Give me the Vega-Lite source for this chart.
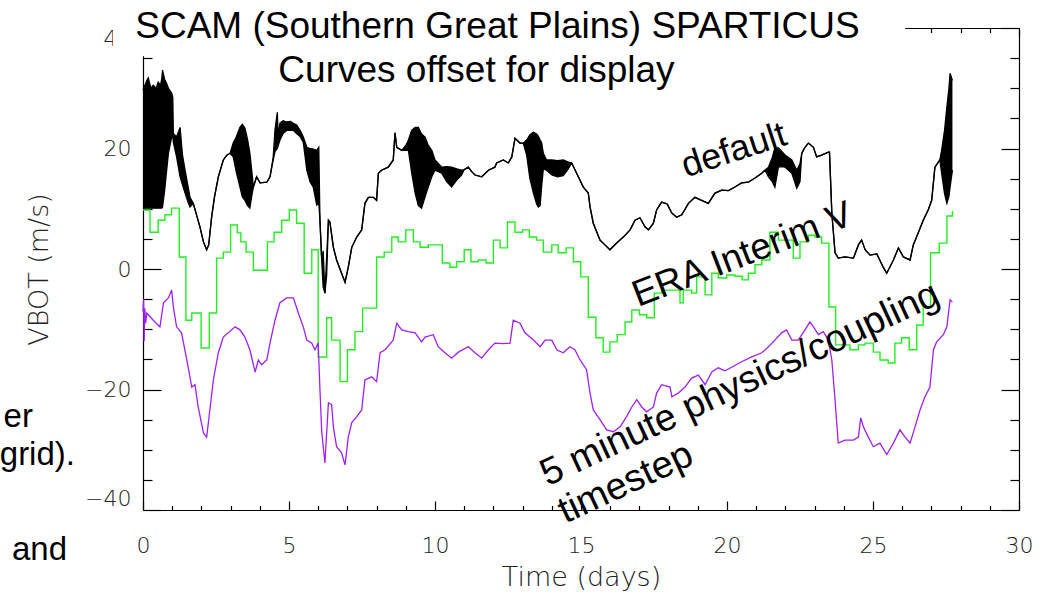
{
  "$schema": "https://vega.github.io/schema/vega-lite/v6.json",
  "width": 876,
  "height": 482,
  "autosize": {"type": "none"},
  "padding": {"left": 143, "top": 28, "right": 35, "bottom": 86},
  "background": "white",
  "config": {
    "view": {"stroke": null},
    "axis": {
      "grid": false,
      "domainColor": "#000",
      "domainWidth": 1.2,
      "tickColor": "#000",
      "tickWidth": 1.2,
      "labelFont": "DejaVu Sans",
      "labelFontWeight": 200,
      "labelFontSize": 22,
      "labelColor": "#222",
      "titleFont": "DejaVu Sans",
      "titleFontWeight": 200,
      "titleFontSize": 27,
      "titleColor": "#222"
    }
  },
  "datasets": {
    "black": [
      {"t": 0.0, "hi": 29.7, "lo": 10.1}, {"t": 0.13, "hi": 31.3, "lo": 10.1}, {"t": 0.18, "hi": 31.7, "lo": 10.1},
      {"t": 0.27, "hi": 30.0, "lo": 10.1}, {"t": 0.35, "hi": 30.5, "lo": 10.1}, {"t": 0.45, "hi": 30.0, "lo": 10.1},
      {"t": 0.52, "hi": 31.0, "lo": 10.1}, {"t": 0.6, "hi": 30.5, "lo": 10.1}, {"t": 0.64, "hi": 31.5, "lo": 10.1},
      {"t": 0.67, "hi": 33.0, "lo": 10.3}, {"t": 0.74, "hi": 31.5, "lo": 13.0}, {"t": 0.81, "hi": 30.8, "lo": 16.4},
      {"t": 0.87, "hi": 30.0, "lo": 19.2}, {"t": 0.98, "hi": 29.2, "lo": 21.9}, {"t": 1.02, "hi": 28.5, "lo": 22.0},
      {"t": 1.04, "hi": 22.5, "lo": 21.0}, {"t": 1.15, "hi": 21.9, "lo": 18.6}, {"t": 1.27, "hi": 23.5, "lo": 15.3},
      {"t": 1.35, "hi": 19.0, "lo": 14.0}, {"t": 1.44, "hi": 16.4, "lo": 12.6}, {"t": 1.55, "hi": 13.5, "lo": 11.0},
      {"t": 1.61, "hi": 11.9, "lo": 10.3}, {"t": 1.72, "hi": 10.9, "lo": 10.9}, {"t": 1.95, "hi": 7.0, "lo": 7.0},
      {"t": 2.07, "hi": 4.5, "lo": 4.5}, {"t": 2.18, "hi": 3.2, "lo": 3.2}, {"t": 2.25, "hi": 4.0, "lo": 4.0},
      {"t": 2.35, "hi": 8.6, "lo": 8.6}, {"t": 2.45, "hi": 12.0, "lo": 12.0}, {"t": 2.58, "hi": 15.3, "lo": 15.3},
      {"t": 2.75, "hi": 18.1, "lo": 18.1}, {"t": 2.87, "hi": 18.9, "lo": 18.9}, {"t": 2.98, "hi": 19.2, "lo": 19.2},
      {"t": 3.09, "hi": 20.9, "lo": 18.6}, {"t": 3.2, "hi": 22.0, "lo": 16.0}, {"t": 3.32, "hi": 23.5, "lo": 13.6},
      {"t": 3.4, "hi": 24.0, "lo": 12.0}, {"t": 3.49, "hi": 23.4, "lo": 11.4}, {"t": 3.58, "hi": 21.5, "lo": 10.5},
      {"t": 3.66, "hi": 19.2, "lo": 10.1}, {"t": 3.72, "hi": 16.5, "lo": 12.0}, {"t": 3.78, "hi": 13.6, "lo": 13.6},
      {"t": 3.89, "hi": 15.3, "lo": 15.3}, {"t": 4.01, "hi": 14.3, "lo": 14.3}, {"t": 4.24, "hi": 14.4, "lo": 14.4},
      {"t": 4.35, "hi": 15.3, "lo": 15.3}, {"t": 4.46, "hi": 18.6, "lo": 18.1}, {"t": 4.52, "hi": 23.1, "lo": 19.5},
      {"t": 4.6, "hi": 26.0, "lo": 20.0}, {"t": 4.63, "hi": 22.0, "lo": 20.5}, {"t": 4.69, "hi": 24.2, "lo": 21.4},
      {"t": 4.8, "hi": 24.6, "lo": 22.5}, {"t": 4.92, "hi": 24.4, "lo": 23.0}, {"t": 5.05, "hi": 24.5, "lo": 23.0},
      {"t": 5.15, "hi": 24.2, "lo": 23.0}, {"t": 5.26, "hi": 23.9, "lo": 22.5}, {"t": 5.38, "hi": 23.0, "lo": 22.0},
      {"t": 5.49, "hi": 21.9, "lo": 21.0}, {"t": 5.61, "hi": 20.2, "lo": 16.4}, {"t": 5.72, "hi": 20.0, "lo": 14.5},
      {"t": 5.83, "hi": 19.9, "lo": 13.6}, {"t": 5.95, "hi": 19.7, "lo": 10.6}, {"t": 6.02, "hi": 20.2, "lo": 11.0},
      {"t": 6.06, "hi": 8.1, "lo": 8.1}, {"t": 6.12, "hi": 1.5, "lo": 1.5}, {"t": 6.17, "hi": 3.0, "lo": -3.0},
      {"t": 6.23, "hi": -4.0, "lo": -4.0}, {"t": 6.29, "hi": 2.0, "lo": -1.0}, {"t": 6.35, "hi": 8.1, "lo": 8.1},
      {"t": 6.4, "hi": 7.8, "lo": 7.8}, {"t": 6.52, "hi": 3.6, "lo": 3.6}, {"t": 6.63, "hi": 1.5, "lo": 1.5},
      {"t": 6.8, "hi": -0.7, "lo": -0.7}, {"t": 6.92, "hi": -2.2, "lo": -2.2}, {"t": 7.03, "hi": 0.3, "lo": 0.3},
      {"t": 7.15, "hi": 3.6, "lo": 3.6}, {"t": 7.32, "hi": 5.3, "lo": 5.3}, {"t": 7.49, "hi": 6.5, "lo": 6.5},
      {"t": 7.6, "hi": 10.9, "lo": 10.9}, {"t": 7.72, "hi": 11.9, "lo": 11.9}, {"t": 7.89, "hi": 11.9, "lo": 11.9},
      {"t": 8.0, "hi": 11.4, "lo": 11.4}, {"t": 8.06, "hi": 15.9, "lo": 15.9}, {"t": 8.17, "hi": 16.4, "lo": 16.4},
      {"t": 8.4, "hi": 16.9, "lo": 16.9}, {"t": 8.57, "hi": 18.1, "lo": 18.1}, {"t": 8.63, "hi": 22.6, "lo": 22.6},
      {"t": 8.69, "hi": 20.2, "lo": 20.2}, {"t": 8.86, "hi": 19.7, "lo": 19.7}, {"t": 9.0, "hi": 20.5, "lo": 19.7},
      {"t": 9.09, "hi": 21.4, "lo": 19.7}, {"t": 9.2, "hi": 23.0, "lo": 16.0}, {"t": 9.32, "hi": 23.5, "lo": 12.6},
      {"t": 9.43, "hi": 23.5, "lo": 10.5}, {"t": 9.54, "hi": 22.4, "lo": 10.1}, {"t": 9.66, "hi": 21.9, "lo": 12.0},
      {"t": 9.77, "hi": 20.5, "lo": 13.6}, {"t": 9.89, "hi": 19.7, "lo": 15.3}, {"t": 10.0, "hi": 18.1, "lo": 16.4},
      {"t": 10.23, "hi": 16.9, "lo": 15.9}, {"t": 10.4, "hi": 17.0, "lo": 14.5}, {"t": 10.57, "hi": 16.9, "lo": 13.6},
      {"t": 10.75, "hi": 16.6, "lo": 14.8}, {"t": 10.91, "hi": 16.4, "lo": 15.6}, {"t": 11.0, "hi": 16.5, "lo": 16.5},
      {"t": 11.14, "hi": 16.9, "lo": 16.9}, {"t": 11.25, "hi": 16.2, "lo": 16.2}, {"t": 11.37, "hi": 15.6, "lo": 15.6},
      {"t": 11.6, "hi": 15.3, "lo": 15.3}, {"t": 11.83, "hi": 16.4, "lo": 16.4}, {"t": 12.05, "hi": 16.9, "lo": 16.9},
      {"t": 12.11, "hi": 17.6, "lo": 17.6}, {"t": 12.34, "hi": 18.1, "lo": 18.1}, {"t": 12.51, "hi": 17.6, "lo": 17.6},
      {"t": 12.63, "hi": 18.6, "lo": 18.6}, {"t": 12.74, "hi": 21.7, "lo": 21.7}, {"t": 12.91, "hi": 20.9, "lo": 20.9},
      {"t": 13.02, "hi": 20.9, "lo": 20.9}, {"t": 13.14, "hi": 21.4, "lo": 18.9}, {"t": 13.25, "hi": 22.3, "lo": 15.0},
      {"t": 13.37, "hi": 22.7, "lo": 12.6}, {"t": 13.48, "hi": 22.4, "lo": 10.8}, {"t": 13.54, "hi": 22.0, "lo": 10.3},
      {"t": 13.6, "hi": 21.4, "lo": 10.5}, {"t": 13.65, "hi": 21.0, "lo": 13.6}, {"t": 13.71, "hi": 19.2, "lo": 16.6},
      {"t": 13.82, "hi": 18.1, "lo": 16.4}, {"t": 14.0, "hi": 18.1, "lo": 15.6}, {"t": 14.2, "hi": 18.0, "lo": 15.3},
      {"t": 14.39, "hi": 18.1, "lo": 15.5}, {"t": 14.55, "hi": 17.8, "lo": 16.5}, {"t": 14.68, "hi": 17.6, "lo": 17.6},
      {"t": 14.85, "hi": 15.9, "lo": 15.9}, {"t": 15.08, "hi": 13.6, "lo": 13.6}, {"t": 15.25, "hi": 12.6, "lo": 12.6},
      {"t": 15.31, "hi": 10.3, "lo": 10.3}, {"t": 15.42, "hi": 7.6, "lo": 7.6}, {"t": 15.65, "hi": 4.8, "lo": 4.8},
      {"t": 15.82, "hi": 4.0, "lo": 4.0}, {"t": 15.99, "hi": 3.2, "lo": 3.2}, {"t": 16.22, "hi": 4.3, "lo": 4.3},
      {"t": 16.45, "hi": 5.3, "lo": 5.3}, {"t": 16.68, "hi": 6.5, "lo": 6.5}, {"t": 16.85, "hi": 8.1, "lo": 8.1},
      {"t": 17.02, "hi": 8.5, "lo": 8.5}, {"t": 17.19, "hi": 7.0, "lo": 7.0}, {"t": 17.31, "hi": 6.5, "lo": 6.5},
      {"t": 17.48, "hi": 7.6, "lo": 7.6}, {"t": 17.59, "hi": 9.8, "lo": 9.8}, {"t": 17.76, "hi": 11.1, "lo": 11.1},
      {"t": 17.95, "hi": 10.8, "lo": 10.8}, {"t": 18.11, "hi": 9.3, "lo": 9.3}, {"t": 18.28, "hi": 8.6, "lo": 8.6},
      {"t": 18.45, "hi": 9.0, "lo": 9.0}, {"t": 18.68, "hi": 10.9, "lo": 10.9}, {"t": 18.9, "hi": 11.9, "lo": 11.9},
      {"t": 19.13, "hi": 11.4, "lo": 11.4}, {"t": 19.36, "hi": 10.9, "lo": 10.9}, {"t": 19.59, "hi": 12.6, "lo": 12.6},
      {"t": 19.82, "hi": 13.1, "lo": 13.1}, {"t": 20.05, "hi": 13.0, "lo": 13.0}, {"t": 20.27, "hi": 13.6, "lo": 13.6},
      {"t": 20.5, "hi": 14.3, "lo": 14.3}, {"t": 20.73, "hi": 14.4, "lo": 14.4}, {"t": 20.96, "hi": 15.1, "lo": 15.1},
      {"t": 21.19, "hi": 15.9, "lo": 15.9}, {"t": 21.3, "hi": 16.4, "lo": 16.4}, {"t": 21.42, "hi": 16.9, "lo": 15.3},
      {"t": 21.55, "hi": 18.5, "lo": 14.5}, {"t": 21.64, "hi": 20.1, "lo": 13.6}, {"t": 21.76, "hi": 20.1, "lo": 16.9},
      {"t": 21.88, "hi": 19.5, "lo": 17.0}, {"t": 21.99, "hi": 18.9, "lo": 16.9}, {"t": 22.22, "hi": 18.1, "lo": 15.9},
      {"t": 22.39, "hi": 16.4, "lo": 13.4}, {"t": 22.5, "hi": 17.5, "lo": 14.5}, {"t": 22.56, "hi": 19.2, "lo": 19.2},
      {"t": 22.67, "hi": 20.2, "lo": 20.2}, {"t": 22.79, "hi": 20.9, "lo": 20.9}, {"t": 22.96, "hi": 20.2, "lo": 20.2},
      {"t": 23.07, "hi": 18.6, "lo": 18.6}, {"t": 23.24, "hi": 18.9, "lo": 18.9}, {"t": 23.47, "hi": 19.4, "lo": 19.4},
      {"t": 23.51, "hi": 19.4, "lo": 19.4}, {"t": 23.59, "hi": 9.3, "lo": 9.3}, {"t": 23.7, "hi": 2.7, "lo": 2.7},
      {"t": 23.81, "hi": 1.8, "lo": 1.8}, {"t": 24.04, "hi": 2.0, "lo": 2.0}, {"t": 24.33, "hi": 1.8, "lo": 1.8},
      {"t": 24.5, "hi": 4.0, "lo": 4.0}, {"t": 24.61, "hi": 4.8, "lo": 4.8}, {"t": 24.73, "hi": 3.2, "lo": 3.2},
      {"t": 24.9, "hi": 2.3, "lo": 2.3}, {"t": 25.13, "hi": 2.5, "lo": 2.5}, {"t": 25.35, "hi": 0.3, "lo": 0.3},
      {"t": 25.47, "hi": -0.7, "lo": -0.7}, {"t": 25.7, "hi": 1.5, "lo": 1.5}, {"t": 25.87, "hi": 3.5, "lo": 3.5},
      {"t": 26.04, "hi": 2.0, "lo": 2.0}, {"t": 26.27, "hi": 1.5, "lo": 1.5}, {"t": 26.38, "hi": 4.0, "lo": 4.0},
      {"t": 26.55, "hi": 6.0, "lo": 6.0}, {"t": 26.72, "hi": 8.1, "lo": 8.1}, {"t": 26.89, "hi": 9.8, "lo": 9.8},
      {"t": 27.01, "hi": 11.4, "lo": 11.4}, {"t": 27.12, "hi": 16.9, "lo": 16.9}, {"t": 27.29, "hi": 18.1, "lo": 18.1},
      {"t": 27.35, "hi": 19.7, "lo": 15.9}, {"t": 27.45, "hi": 23.0, "lo": 12.5}, {"t": 27.53, "hi": 26.9, "lo": 10.9},
      {"t": 27.6, "hi": 30.0, "lo": 12.0}, {"t": 27.64, "hi": 32.5, "lo": 13.6}, {"t": 27.72, "hi": 31.3, "lo": 16.4}
    ],
    "green": [
      {"t": 0.0, "v": 9.8}, {"t": 0.24, "v": 6.1}, {"t": 0.52, "v": 8.1}, {"t": 0.75, "v": 9.0}, {"t": 0.98, "v": 10.1},
      {"t": 1.24, "v": 2.0}, {"t": 1.47, "v": -8.5}, {"t": 1.67, "v": -7.3}, {"t": 1.99, "v": -13.1}, {"t": 2.27, "v": -7.3},
      {"t": 2.52, "v": 1.8}, {"t": 2.75, "v": 2.8}, {"t": 3.0, "v": 7.3}, {"t": 3.23, "v": 6.0}, {"t": 3.35, "v": 4.5},
      {"t": 3.53, "v": 2.8}, {"t": 3.78, "v": -0.2}, {"t": 4.26, "v": 4.5}, {"t": 4.49, "v": 6.1}, {"t": 4.75, "v": 8.1},
      {"t": 5.01, "v": 9.8}, {"t": 5.26, "v": 7.6}, {"t": 5.52, "v": -0.7}, {"t": 5.78, "v": 3.2}, {"t": 6.0, "v": -14.6},
      {"t": 6.29, "v": -8.1}, {"t": 6.46, "v": -11.8}, {"t": 6.75, "v": -18.7}, {"t": 7.0, "v": -13.4}, {"t": 7.26, "v": -10.4},
      {"t": 7.52, "v": -6.5}, {"t": 8.0, "v": 2.0}, {"t": 8.26, "v": 2.8}, {"t": 8.52, "v": 5.3}, {"t": 8.74, "v": 4.5},
      {"t": 9.0, "v": 6.5}, {"t": 9.26, "v": 4.5}, {"t": 9.49, "v": 3.6}, {"t": 9.77, "v": 4.0}, {"t": 10.25, "v": 1.0},
      {"t": 10.51, "v": 0.3}, {"t": 10.74, "v": 1.2}, {"t": 11.0, "v": 3.2}, {"t": 11.23, "v": 1.2}, {"t": 11.48, "v": 1.5},
      {"t": 11.75, "v": 1.0}, {"t": 12.0, "v": 4.8}, {"t": 12.23, "v": 3.5}, {"t": 12.48, "v": 7.8}, {"t": 12.74, "v": 6.1},
      {"t": 13.0, "v": 6.5}, {"t": 13.23, "v": 5.3}, {"t": 13.48, "v": 4.8}, {"t": 13.71, "v": 2.8}, {"t": 14.0, "v": 4.0},
      {"t": 14.22, "v": 2.7}, {"t": 14.49, "v": 3.5}, {"t": 14.74, "v": 1.2}, {"t": 14.99, "v": -1.3}, {"t": 15.25, "v": -8.0},
      {"t": 15.51, "v": -11.4}, {"t": 15.76, "v": -13.8}, {"t": 15.99, "v": -12.1}, {"t": 16.24, "v": -10.9}, {"t": 16.51, "v": -8.8},
      {"t": 16.74, "v": -6.8}, {"t": 17.0, "v": -7.6}, {"t": 17.25, "v": -8.1}, {"t": 17.51, "v": -4.0}, {"t": 17.76, "v": -3.5},
      {"t": 18.39, "v": -5.6}, {"t": 18.5, "v": -3.5}, {"t": 18.79, "v": -4.0}, {"t": 18.96, "v": -1.3}, {"t": 19.25, "v": -4.3},
      {"t": 19.48, "v": -0.7}, {"t": 19.7, "v": -1.5}, {"t": 19.99, "v": -1.0}, {"t": 20.27, "v": -1.2}, {"t": 20.52, "v": -1.8},
      {"t": 20.73, "v": -0.7}, {"t": 20.96, "v": 0.7}, {"t": 21.19, "v": 1.5}, {"t": 21.47, "v": 6.1}, {"t": 21.76, "v": 4.8},
      {"t": 22.27, "v": 1.8}, {"t": 22.5, "v": 4.5}, {"t": 22.79, "v": 5.6}, {"t": 23.01, "v": 5.3}, {"t": 23.24, "v": 4.3},
      {"t": 23.49, "v": -6.3}, {"t": 23.72, "v": -12.6}, {"t": 24.21, "v": -13.4}, {"t": 24.5, "v": -12.6}, {"t": 24.73, "v": -12.3},
      {"t": 25.01, "v": -13.8}, {"t": 25.24, "v": -15.1}, {"t": 25.52, "v": -15.6}, {"t": 25.75, "v": -12.3}, {"t": 25.98, "v": -11.4},
      {"t": 26.24, "v": -13.4}, {"t": 26.5, "v": -9.3}, {"t": 26.72, "v": -6.3}, {"t": 26.97, "v": 2.7}, {"t": 27.27, "v": 4.3},
      {"t": 27.53, "v": 8.8}, {"t": 27.72, "v": 9.5}, {"t": 27.75, "v": 9.5}
    ],
    "purple": [
      {"t": 0.0, "v": -7.0}, {"t": 0.02, "v": -5.0}, {"t": 0.04, "v": -12.0}, {"t": 0.06, "v": -6.5}, {"t": 0.09, "v": -9.0},
      {"t": 0.13, "v": -7.3}, {"t": 0.35, "v": -8.5}, {"t": 0.58, "v": -9.6}, {"t": 0.7, "v": -5.6}, {"t": 0.87, "v": -4.8},
      {"t": 0.98, "v": -3.5}, {"t": 1.04, "v": -6.3}, {"t": 1.15, "v": -9.6}, {"t": 1.32, "v": -10.6}, {"t": 1.5, "v": -15.1},
      {"t": 1.67, "v": -19.6}, {"t": 1.78, "v": -19.2}, {"t": 1.89, "v": -22.9}, {"t": 2.07, "v": -27.2}, {"t": 2.18, "v": -27.9},
      {"t": 2.29, "v": -23.4}, {"t": 2.41, "v": -18.4}, {"t": 2.58, "v": -13.9}, {"t": 2.75, "v": -11.3}, {"t": 2.92, "v": -10.6},
      {"t": 3.15, "v": -9.6}, {"t": 3.32, "v": -10.1}, {"t": 3.49, "v": -11.3}, {"t": 3.66, "v": -13.4}, {"t": 3.84, "v": -17.1},
      {"t": 3.95, "v": -15.1}, {"t": 4.06, "v": -15.9}, {"t": 4.24, "v": -15.1}, {"t": 4.35, "v": -12.3}, {"t": 4.52, "v": -8.5},
      {"t": 4.69, "v": -5.6}, {"t": 4.92, "v": -4.8}, {"t": 5.15, "v": -4.8}, {"t": 5.32, "v": -7.3}, {"t": 5.49, "v": -9.6},
      {"t": 5.61, "v": -11.8}, {"t": 5.78, "v": -12.3}, {"t": 5.89, "v": -13.4}, {"t": 6.0, "v": -12.3}, {"t": 6.06, "v": -20.0},
      {"t": 6.12, "v": -27.0}, {"t": 6.23, "v": -32.2}, {"t": 6.35, "v": -22.2}, {"t": 6.46, "v": -22.5}, {"t": 6.52, "v": -26.2},
      {"t": 6.63, "v": -29.5}, {"t": 6.8, "v": -30.5}, {"t": 6.92, "v": -32.5}, {"t": 7.03, "v": -27.9}, {"t": 7.15, "v": -25.5},
      {"t": 7.32, "v": -24.5}, {"t": 7.49, "v": -23.4}, {"t": 7.6, "v": -18.4}, {"t": 7.83, "v": -17.9}, {"t": 8.0, "v": -18.7},
      {"t": 8.12, "v": -13.9}, {"t": 8.29, "v": -13.4}, {"t": 8.57, "v": -11.8}, {"t": 8.69, "v": -9.0}, {"t": 8.86, "v": -10.1},
      {"t": 9.09, "v": -10.4}, {"t": 9.32, "v": -10.6}, {"t": 9.54, "v": -12.1}, {"t": 9.66, "v": -11.3}, {"t": 9.94, "v": -10.9},
      {"t": 10.11, "v": -12.9}, {"t": 10.34, "v": -13.9}, {"t": 10.57, "v": -14.8}, {"t": 10.8, "v": -13.8}, {"t": 11.14, "v": -12.9},
      {"t": 11.37, "v": -13.9}, {"t": 11.6, "v": -14.8}, {"t": 11.83, "v": -13.4}, {"t": 12.05, "v": -12.3}, {"t": 12.34, "v": -12.4},
      {"t": 12.57, "v": -12.3}, {"t": 12.68, "v": -8.5}, {"t": 12.91, "v": -9.0}, {"t": 13.08, "v": -10.6}, {"t": 13.37, "v": -11.8},
      {"t": 13.6, "v": -12.9}, {"t": 13.77, "v": -11.8}, {"t": 14.0, "v": -11.8}, {"t": 14.17, "v": -13.4}, {"t": 14.39, "v": -13.9},
      {"t": 14.62, "v": -12.9}, {"t": 14.79, "v": -13.4}, {"t": 14.97, "v": -15.1}, {"t": 15.19, "v": -16.7}, {"t": 15.31, "v": -20.6},
      {"t": 15.42, "v": -23.4}, {"t": 15.65, "v": -25.0}, {"t": 15.88, "v": -26.7}, {"t": 16.11, "v": -27.0}, {"t": 16.34, "v": -26.2},
      {"t": 16.56, "v": -24.5}, {"t": 16.74, "v": -22.9}, {"t": 16.91, "v": -21.7}, {"t": 17.08, "v": -22.9}, {"t": 17.25, "v": -23.7},
      {"t": 17.48, "v": -22.9}, {"t": 17.59, "v": -20.6}, {"t": 17.76, "v": -19.2}, {"t": 18.05, "v": -19.6}, {"t": 18.11, "v": -21.2},
      {"t": 18.33, "v": -20.6}, {"t": 18.56, "v": -19.6}, {"t": 18.79, "v": -18.1}, {"t": 19.02, "v": -17.6}, {"t": 19.25, "v": -19.2},
      {"t": 19.48, "v": -17.1}, {"t": 19.7, "v": -16.4}, {"t": 19.93, "v": -16.9}, {"t": 20.16, "v": -16.3}, {"t": 20.5, "v": -15.4},
      {"t": 20.85, "v": -14.6}, {"t": 21.19, "v": -13.9}, {"t": 21.42, "v": -12.9}, {"t": 21.64, "v": -11.8}, {"t": 21.87, "v": -10.6},
      {"t": 22.04, "v": -10.1}, {"t": 22.22, "v": -11.8}, {"t": 22.44, "v": -11.8}, {"t": 22.67, "v": -10.1}, {"t": 22.84, "v": -8.8},
      {"t": 22.96, "v": -9.6}, {"t": 23.13, "v": -10.9}, {"t": 23.3, "v": -10.4}, {"t": 23.47, "v": -11.8}, {"t": 23.59, "v": -15.1},
      {"t": 23.7, "v": -21.7}, {"t": 23.81, "v": -28.9}, {"t": 24.04, "v": -28.4}, {"t": 24.33, "v": -28.4}, {"t": 24.5, "v": -27.9},
      {"t": 24.58, "v": -24.7}, {"t": 24.67, "v": -26.2}, {"t": 24.84, "v": -27.9}, {"t": 25.01, "v": -29.5}, {"t": 25.24, "v": -28.9},
      {"t": 25.47, "v": -30.8}, {"t": 25.7, "v": -28.9}, {"t": 25.92, "v": -26.7}, {"t": 26.1, "v": -27.9}, {"t": 26.27, "v": -28.9},
      {"t": 26.44, "v": -26.2}, {"t": 26.61, "v": -23.4}, {"t": 26.78, "v": -21.2}, {"t": 26.95, "v": -19.6}, {"t": 27.07, "v": -13.4},
      {"t": 27.18, "v": -12.1}, {"t": 27.41, "v": -10.9}, {"t": 27.53, "v": -9.6}, {"t": 27.64, "v": -5.1}, {"t": 27.72, "v": -5.5}
    ]
  },
  "layer": [
    {
      "data": {"name": "black"},
      "mark": {"type": "area", "color": "#000", "opacity": 1},
      "encoding": {
        "x": {"field": "t", "type": "quantitative", "scale": {"domain": [0, 30], "nice": false, "zero": false},
              "axis": {"orient": "bottom", "values": [0, 5, 10, 15, 20, 25, 30], "tickSize": -9, "labelPadding": 34, "labelFlush": false, "format": "d", "title": "Time (days)", "titlePadding": 8}},
        "y": {"field": "hi", "type": "quantitative", "scale": {"domain": [-40, 40], "nice": false, "zero": false},
              "axis": {"orient": "left", "values": [-40, -20, 0, 20, 40], "tickSize": -18, "labelPadding": 30, "labelFlush": true, "labelFlushOffset": 0, "format": "d", "title": "VBOT (m/s)", "titlePadding": 31}},
        "y2": {"field": "lo"}
      }
    },
    {
      "data": {"name": "black"},
      "mark": {"type": "line", "color": "#000", "strokeWidth": 1.3},
      "encoding": {
        "x": {"field": "t", "type": "quantitative", "scale": {"domain": [0, 30], "nice": false, "zero": false},
              "axis": {"orient": "bottom", "values": [1, 2, 3, 4, 6, 7, 8, 9, 11, 12, 13, 14, 16, 17, 18, 19, 21, 22, 23, 24, 26, 27, 28, 29], "tickSize": -4.5, "labels": false, "domain": false, "title": null}},
        "y": {"field": "hi", "type": "quantitative", "scale": {"domain": [-40, 40], "nice": false, "zero": false},
              "axis": {"orient": "left", "values": [-35, -30, -25, -15, -10, -5, 5, 10, 15, 25, 30, 35], "tickSize": -9, "labels": false, "domain": false, "title": null}}
      }
    },
    {
      "data": {"name": "black"},
      "mark": {"type": "line", "color": "#000", "strokeWidth": 1.3},
      "encoding": {
        "x": {"field": "t", "type": "quantitative", "scale": {"domain": [0, 30], "nice": false, "zero": false},
              "axis": {"orient": "top", "values": [0, 5, 10, 15, 20, 25, 30], "tickSize": -9, "labels": false, "title": null}},
        "y": {"field": "lo", "type": "quantitative", "scale": {"domain": [-40, 40], "nice": false, "zero": false},
              "axis": {"orient": "right", "values": [-40, -20, 0, 20, 40], "tickSize": -18, "labels": false, "title": null}}
      }
    },
    {
      "data": {"name": "green"},
      "mark": {"type": "line", "color": "#22ee22", "strokeWidth": 1.4, "interpolate": "step-after"},
      "encoding": {
        "x": {"field": "t", "type": "quantitative", "scale": {"domain": [0, 30], "nice": false, "zero": false},
              "axis": {"orient": "top", "values": [1, 2, 3, 4, 6, 7, 8, 9, 11, 12, 13, 14, 16, 17, 18, 19, 21, 22, 23, 24, 26, 27, 28, 29], "tickSize": -4.5, "labels": false, "domain": false, "title": null}},
        "y": {"field": "v", "type": "quantitative", "scale": {"domain": [-40, 40], "nice": false, "zero": false},
              "axis": {"orient": "right", "values": [-35, -30, -25, -15, -10, -5, 5, 10, 15, 25, 30, 35], "tickSize": -9, "labels": false, "domain": false, "title": null}}
      }
    },
    {
      "data": {"name": "purple"},
      "mark": {"type": "line", "color": "#a020f0", "strokeWidth": 1.3},
      "encoding": {
        "x": {"field": "t", "type": "quantitative", "scale": {"domain": [0, 30], "nice": false, "zero": false}, "axis": null},
        "y": {"field": "v", "type": "quantitative", "scale": {"domain": [-40, 40], "nice": false, "zero": false}, "axis": null}
      }
    },
    {
      "data": {"values": [{"t1": -1.03, "t2": 26.1, "v1": 35.3, "v2": 47}]},
      "mark": {"type": "rect", "color": "white", "opacity": 1},
      "encoding": {
        "x": {"field": "t1", "type": "quantitative", "axis": null},
        "x2": {"field": "t2"},
        "y": {"field": "v1", "type": "quantitative", "axis": null},
        "y2": {"field": "v2"}
      }
    },
    {
      "data": {"values": [
        {"label": "SCAM (Southern Great Plains) SPARTICUS", "t": 12.14, "v": 38.3},
        {"label": "Curves offset for display", "t": 11.42, "v": 31.0}
      ]},
      "mark": {"type": "text", "font": "Liberation Sans", "fontSize": 37, "align": "center", "baseline": "alphabetic", "color": "#000"},
      "encoding": {
        "x": {"field": "t", "type": "quantitative", "axis": null},
        "y": {"field": "v", "type": "quantitative", "axis": null},
        "text": {"field": "label"}
      }
    },
    {
      "data": {"values": [
        {"label": "er", "t": -3.77, "v": -26.2},
        {"label": "grid).", "t": -2.33, "v": -32.5},
        {"label": "and", "t": -2.6, "v": -48.3}
      ]},
      "mark": {"type": "text", "font": "Liberation Sans", "fontSize": 33, "align": "right", "baseline": "alphabetic", "color": "#000"},
      "encoding": {
        "x": {"field": "t", "type": "quantitative", "axis": null},
        "y": {"field": "v", "type": "quantitative", "axis": null},
        "text": {"field": "label"}
      }
    },
    {
      "data": {"values": [{"label": "default", "t": 20.24, "v": 19.7}]},
      "mark": {"type": "text", "font": "Liberation Sans", "fontSize": 36, "align": "center", "baseline": "middle", "angle": 342, "color": "#000"},
      "encoding": {
        "x": {"field": "t", "type": "quantitative", "axis": null},
        "y": {"field": "v", "type": "quantitative", "axis": null},
        "text": {"field": "label"}
      }
    },
    {
      "data": {"values": [{"label": "ERA Interim V", "t": 20.53, "v": 2.3}]},
      "mark": {"type": "text", "font": "Liberation Sans", "fontSize": 37, "align": "center", "baseline": "middle", "angle": 339, "color": "#000"},
      "encoding": {
        "x": {"field": "t", "type": "quantitative", "axis": null},
        "y": {"field": "v", "type": "quantitative", "axis": null},
        "text": {"field": "label"}
      }
    },
    {
      "data": {"values": [
        {"label": "5 minute physics/coupling", "t": 20.45, "v": -19.2},
        {"label": "timestep", "t": 16.54, "v": -35.6}
      ]},
      "mark": {"type": "text", "font": "Liberation Sans", "fontSize": 38, "align": "center", "baseline": "middle", "angle": 335, "color": "#000"},
      "encoding": {
        "x": {"field": "t", "type": "quantitative", "axis": null},
        "y": {"field": "v", "type": "quantitative", "axis": null},
        "text": {"field": "label"}
      }
    }
  ],
  "resolve": {"axis": {"x": "independent", "y": "independent"}}
}
